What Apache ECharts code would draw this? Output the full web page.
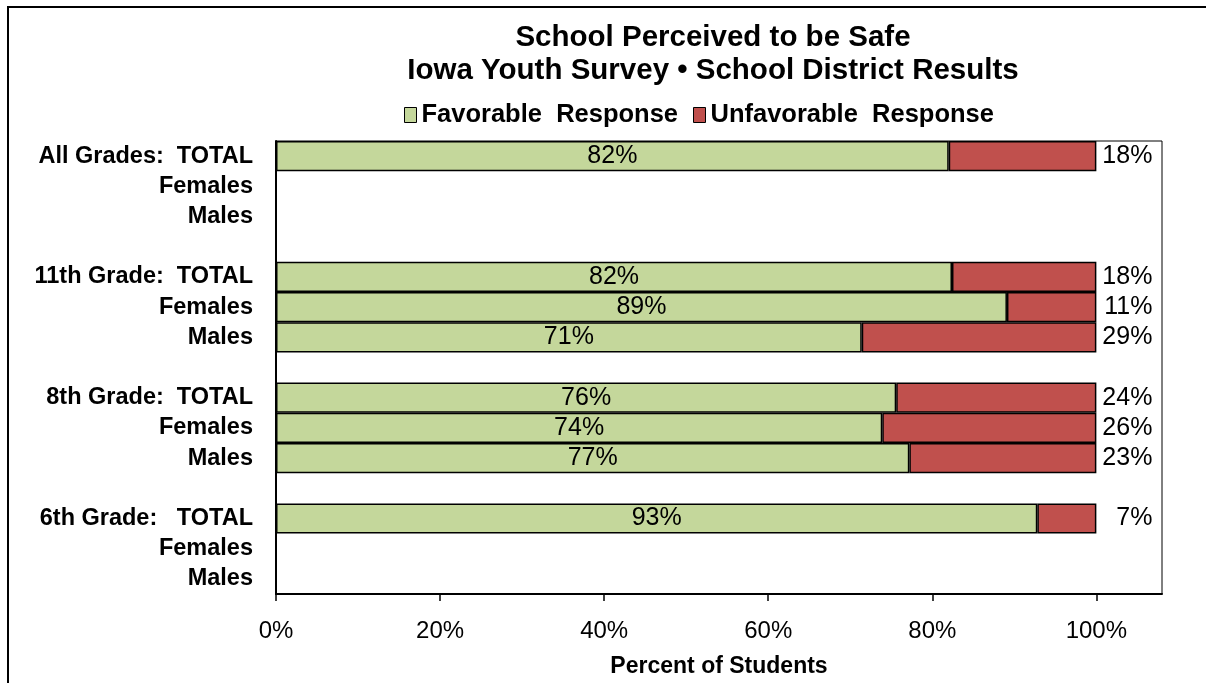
<!DOCTYPE html>
<html>
<head>
<meta charset="utf-8">
<script src="https://cdn.jsdelivr.net/npm/echarts@6/dist/echarts.min.js"></script>
<style>
  html, body { margin: 0; padding: 0; background: #fff; }
  #chart { width: 1206px; height: 683px; }
</style>
</head>
<body>
<div id="chart"></div>
<script>
const categories = [
  'All Grades:  TOTAL', 'Females', 'Males', '',
  '11th Grade:  TOTAL', 'Females', 'Males', '',
  '8th Grade:  TOTAL', 'Females', 'Males', '',
  '6th Grade:   TOTAL', 'Females', 'Males'
];
const favorable   = [82.0, '-', '-', '-', 82.4, 89.1, 71.4, '-', 75.6, 73.9, 77.2, '-', 92.8, '-', '-'];
const unfavorable = [18.0, '-', '-', '-', 17.6, 10.9, 28.6, '-', 24.4, 26.1, 22.8, '-', 7.2, '-', '-'];
const xTicks = [0, 20, 40, 60, 80, 100];

const FONT = '"Liberation Sans", Arial, sans-serif';
const pct = p => Math.round(p.value) + '%';

const chart = echarts.init(document.getElementById('chart'), null, { renderer: 'canvas' });
chart.setOption({
  animation: false,
  backgroundColor: '#fff',
  graphic: [{
    type: 'rect',
    shape: { x: 8, y: 7, width: 1400, height: 900 },
    style: { fill: 'none', stroke: '#000', lineWidth: 2 },
    silent: true
  }],
  title: {
    text: 'School Perceived to be Safe\nIowa Youth Survey \u2022 School District Results',
    left: 708,
    top: 16,
    textAlign: 'center',
    textStyle: { fontFamily: FONT, fontSize: 29.5, fontWeight: 'bold', color: '#000', lineHeight: 33 }
  },
  legend: {
    left: 399,
    top: 97,
    itemWidth: 12,
    itemHeight: 15,
    itemGap: 15,
    icon: 'rect',
    itemStyle: { borderColor: '#000', borderWidth: 1 },
    textStyle: { fontFamily: FONT, fontSize: 25.5, fontWeight: 'bold', color: '#000' },
    data: ['Favorable  Response', 'Unfavorable  Response']
  },
  grid: {
    left: 276, right: 44, top: 141, bottom: 87,
    show: true, borderColor: '#000', borderWidth: 1, backgroundColor: 'transparent'
  },
  xAxis: {
    type: 'value',
    min: 0, max: 108, interval: 20,
    name: 'Percent of Students',
    nameLocation: 'middle',
    nameGap: 61,
    nameTextStyle: { fontFamily: FONT, fontSize: 23, fontWeight: 'bold', color: '#000' },
    axisLine: { show: true, lineStyle: { color: '#000', width: 2 } },
    axisTick: { show: true, length: 7, customValues: xTicks, lineStyle: { color: '#000', width: 1.5 } },
    axisLabel: { customValues: xTicks, margin: 25, formatter: v => v + '%',
      fontFamily: FONT, fontSize: 24, color: '#000' },
    splitLine: { show: false }
  },
  yAxis: {
    type: 'category',
    inverse: true,
    data: categories,
    axisLine: { show: true, lineStyle: { color: '#000', width: 2 } },
    axisTick: { show: false },
    axisLabel: { margin: 23, fontFamily: FONT, fontSize: 23.5, fontWeight: 'bold', color: '#000', interval: 0 },
    splitLine: { show: false }
  },
  series: [
    {
      name: 'Favorable  Response',
      type: 'bar',
      stack: 'total',
      barCategoryGap: '0%',
      data: favorable,
      itemStyle: { color: '#C4D79B', borderColor: '#000', borderWidth: 1.5 },
      label: { show: true, position: 'inside', formatter: pct,
        fontFamily: FONT, fontSize: 25, color: '#000' }
    },
    {
      name: 'Unfavorable  Response',
      type: 'bar',
      stack: 'total',
      barCategoryGap: '0%',
      data: unfavorable,
      itemStyle: { color: '#C0504D', borderColor: '#000', borderWidth: 1.5 },
      label: { show: true, position: 'right', distance: 56, align: 'right', formatter: pct,
        fontFamily: FONT, fontSize: 25, color: '#000' }
    }
  ]
});
</script>
</body>
</html>
